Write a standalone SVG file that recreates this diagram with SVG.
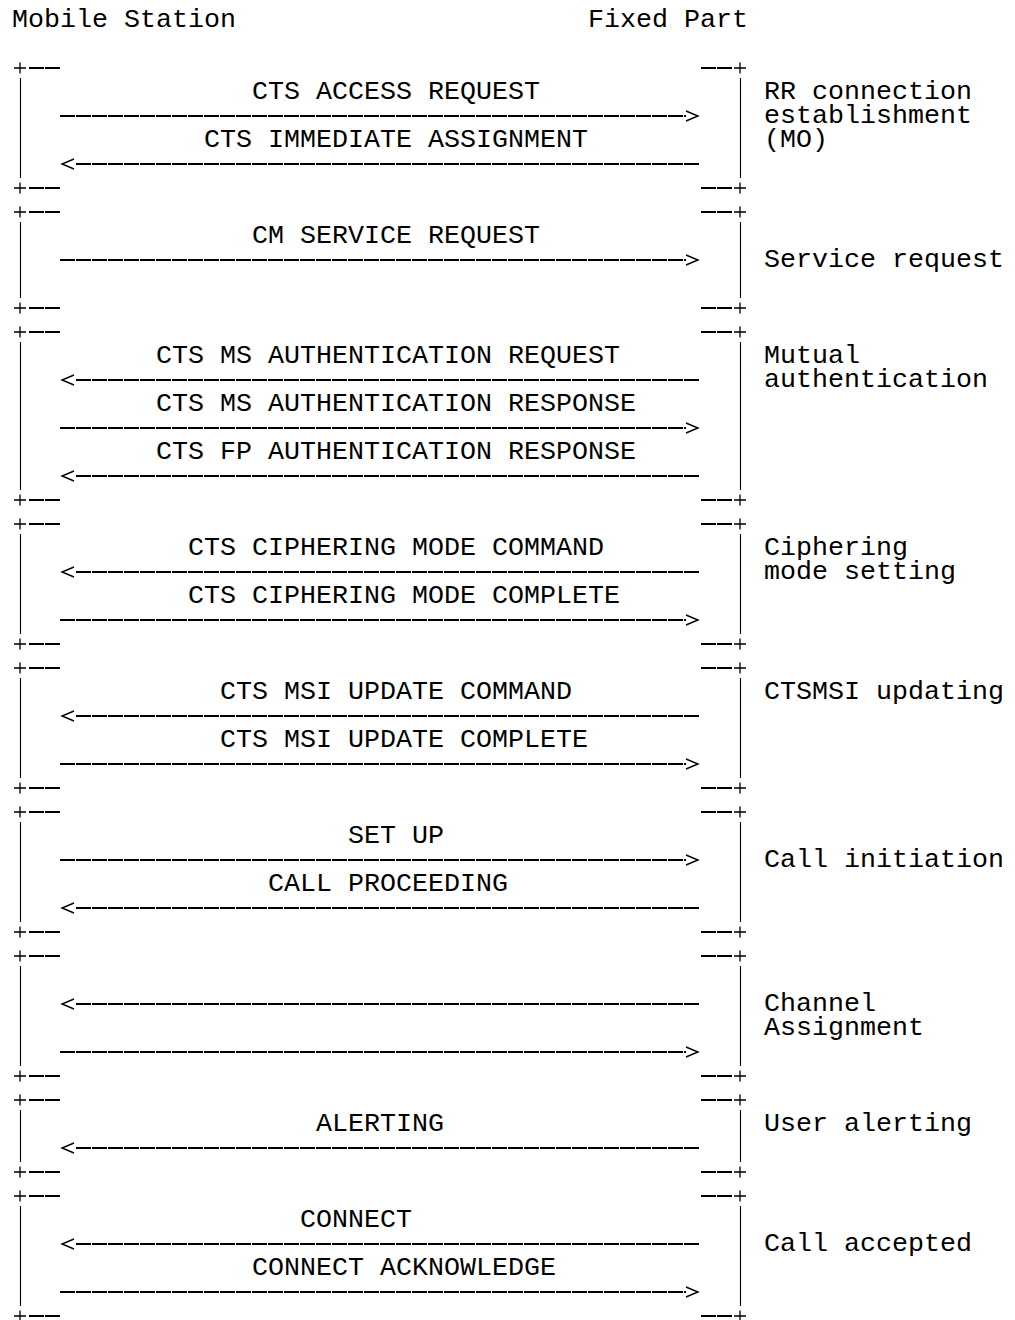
<svg xmlns="http://www.w3.org/2000/svg" xmlns:xlink="http://www.w3.org/1999/xlink" width="1015" height="1320" viewBox="0 0 1015 1320">
<style>
.t{font-family:"Liberation Mono","Courier New",monospace;font-size:26.67px;fill:#000}
.bar{stroke:#000;stroke-width:1.1;fill:none}
.dash{stroke:#000;stroke-width:2;stroke-dasharray:15 1;fill:none}
.head{stroke:#000;stroke-width:1.4;fill:none;stroke-linejoin:miter}
</style>
<defs>
<path id="plus" d="M-6,0H6M0,-5.5V5.5" stroke="#000" stroke-width="1.3" fill="none"/>
<path id="ahR" d="M-12,-5L0,0L-12,5" class="head"/>
<path id="ahL" d="M12,-5L0,0L12,5" class="head"/>
</defs>
<rect width="1015" height="1320" fill="#fff"/>
<g id="headers">
<text class="t" x="12" y="27">Mobile Station</text>
<text class="t" x="588" y="27">Fixed Part</text>
</g>
<g id="box-rr">
<use href="#plus" x="20" y="68"/><path class="dash" d="M29,68H60"/><path class="bar" d="M20.5,78V178"/>
<use href="#plus" x="20" y="188"/><path class="dash" d="M29,188H60"/>
<use href="#plus" x="740" y="68"/><path class="dash" d="M701,68H732"/><path class="bar" d="M740.5,78V178"/>
<use href="#plus" x="740" y="188"/><path class="dash" d="M701,188H732"/>
<text class="t" x="764" y="99">RR connection<tspan x="764" dy="24">establishment</tspan><tspan x="764" dy="24">(MO)</tspan></text>
</g>
<g id="box-service">
<use href="#plus" x="20" y="212"/><path class="dash" d="M29,212H60"/><path class="bar" d="M20.5,222V298"/>
<use href="#plus" x="20" y="308"/><path class="dash" d="M29,308H60"/>
<use href="#plus" x="740" y="212"/><path class="dash" d="M701,212H732"/><path class="bar" d="M740.5,222V298"/>
<use href="#plus" x="740" y="308"/><path class="dash" d="M701,308H732"/>
<text class="t" x="764" y="267">Service request</text>
</g>
<g id="box-auth">
<use href="#plus" x="20" y="332"/><path class="dash" d="M29,332H60"/><path class="bar" d="M20.5,342V490"/>
<use href="#plus" x="20" y="500"/><path class="dash" d="M29,500H60"/>
<use href="#plus" x="740" y="332"/><path class="dash" d="M701,332H732"/><path class="bar" d="M740.5,342V490"/>
<use href="#plus" x="740" y="500"/><path class="dash" d="M701,500H732"/>
<text class="t" x="764" y="363">Mutual<tspan x="764" dy="24">authentication</tspan></text>
</g>
<g id="box-cipher">
<use href="#plus" x="20" y="524"/><path class="dash" d="M29,524H60"/><path class="bar" d="M20.5,534V634"/>
<use href="#plus" x="20" y="644"/><path class="dash" d="M29,644H60"/>
<use href="#plus" x="740" y="524"/><path class="dash" d="M701,524H732"/><path class="bar" d="M740.5,534V634"/>
<use href="#plus" x="740" y="644"/><path class="dash" d="M701,644H732"/>
<text class="t" x="764" y="555">Ciphering<tspan x="764" dy="24">mode setting</tspan></text>
</g>
<g id="box-msi">
<use href="#plus" x="20" y="668"/><path class="dash" d="M29,668H60"/><path class="bar" d="M20.5,678V778"/>
<use href="#plus" x="20" y="788"/><path class="dash" d="M29,788H60"/>
<use href="#plus" x="740" y="668"/><path class="dash" d="M701,668H732"/><path class="bar" d="M740.5,678V778"/>
<use href="#plus" x="740" y="788"/><path class="dash" d="M701,788H732"/>
<text class="t" x="764" y="699">CTSMSI updating</text>
</g>
<g id="box-call">
<use href="#plus" x="20" y="812"/><path class="dash" d="M29,812H60"/><path class="bar" d="M20.5,822V922"/>
<use href="#plus" x="20" y="932"/><path class="dash" d="M29,932H60"/>
<use href="#plus" x="740" y="812"/><path class="dash" d="M701,812H732"/><path class="bar" d="M740.5,822V922"/>
<use href="#plus" x="740" y="932"/><path class="dash" d="M701,932H732"/>
<text class="t" x="764" y="867">Call initiation</text>
</g>
<g id="box-channel">
<use href="#plus" x="20" y="956"/><path class="dash" d="M29,956H60"/><path class="bar" d="M20.5,966V1066"/>
<use href="#plus" x="20" y="1076"/><path class="dash" d="M29,1076H60"/>
<use href="#plus" x="740" y="956"/><path class="dash" d="M701,956H732"/><path class="bar" d="M740.5,966V1066"/>
<use href="#plus" x="740" y="1076"/><path class="dash" d="M701,1076H732"/>
<text class="t" x="764" y="1011">Channel<tspan x="764" dy="24">Assignment</tspan></text>
</g>
<g id="box-alert">
<use href="#plus" x="20" y="1100"/><path class="dash" d="M29,1100H60"/><path class="bar" d="M20.5,1110V1162"/>
<use href="#plus" x="20" y="1172"/><path class="dash" d="M29,1172H60"/>
<use href="#plus" x="740" y="1100"/><path class="dash" d="M701,1100H732"/><path class="bar" d="M740.5,1110V1162"/>
<use href="#plus" x="740" y="1172"/><path class="dash" d="M701,1172H732"/>
<text class="t" x="764" y="1131">User alerting</text>
</g>
<g id="box-accept">
<use href="#plus" x="20" y="1196"/><path class="dash" d="M29,1196H60"/><path class="bar" d="M20.5,1206V1306"/>
<use href="#plus" x="20" y="1316"/><path class="dash" d="M29,1316H60"/>
<use href="#plus" x="740" y="1196"/><path class="dash" d="M701,1196H732"/><path class="bar" d="M740.5,1206V1306"/>
<use href="#plus" x="740" y="1316"/><path class="dash" d="M701,1316H732"/>
<text class="t" x="764" y="1251">Call accepted</text>
</g>
<g id="connectors">
<text class="t" x="252" y="99">CTS ACCESS REQUEST</text>
<path class="dash" d="M60,116H686"/><use href="#ahR" x="698" y="116"/>
<text class="t" x="204" y="147">CTS IMMEDIATE ASSIGNMENT</text>
<use href="#ahL" x="62" y="164"/><path class="dash" d="M76,164H700"/>

<text class="t" x="252" y="243">CM SERVICE REQUEST</text>
<path class="dash" d="M60,260H686"/><use href="#ahR" x="698" y="260"/>

<text class="t" x="156" y="363">CTS MS AUTHENTICATION REQUEST</text>
<use href="#ahL" x="62" y="380"/><path class="dash" d="M76,380H700"/>
<text class="t" x="156" y="411">CTS MS AUTHENTICATION RESPONSE</text>
<path class="dash" d="M60,428H686"/><use href="#ahR" x="698" y="428"/>
<text class="t" x="156" y="459">CTS FP AUTHENTICATION RESPONSE</text>
<use href="#ahL" x="62" y="476"/><path class="dash" d="M76,476H700"/>

<text class="t" x="188" y="555">CTS CIPHERING MODE COMMAND</text>
<use href="#ahL" x="62" y="572"/><path class="dash" d="M76,572H700"/>
<text class="t" x="188" y="603">CTS CIPHERING MODE COMPLETE</text>
<path class="dash" d="M60,620H686"/><use href="#ahR" x="698" y="620"/>

<text class="t" x="220" y="699">CTS MSI UPDATE COMMAND</text>
<use href="#ahL" x="62" y="716"/><path class="dash" d="M76,716H700"/>
<text class="t" x="220" y="747">CTS MSI UPDATE COMPLETE</text>
<path class="dash" d="M60,764H686"/><use href="#ahR" x="698" y="764"/>

<text class="t" x="348" y="843">SET UP</text>
<path class="dash" d="M60,860H686"/><use href="#ahR" x="698" y="860"/>
<text class="t" x="268" y="891">CALL PROCEEDING</text>
<use href="#ahL" x="62" y="908"/><path class="dash" d="M76,908H700"/>

<use href="#ahL" x="62" y="1004"/><path class="dash" d="M76,1004H700"/>
<path class="dash" d="M60,1052H686"/><use href="#ahR" x="698" y="1052"/>

<text class="t" x="316" y="1131">ALERTING</text>
<use href="#ahL" x="62" y="1148"/><path class="dash" d="M76,1148H700"/>

<text class="t" x="300" y="1227">CONNECT</text>
<use href="#ahL" x="62" y="1244"/><path class="dash" d="M76,1244H700"/>
<text class="t" x="252" y="1275">CONNECT ACKNOWLEDGE</text>
<path class="dash" d="M60,1292H686"/><use href="#ahR" x="698" y="1292"/>
</g>
</svg>
